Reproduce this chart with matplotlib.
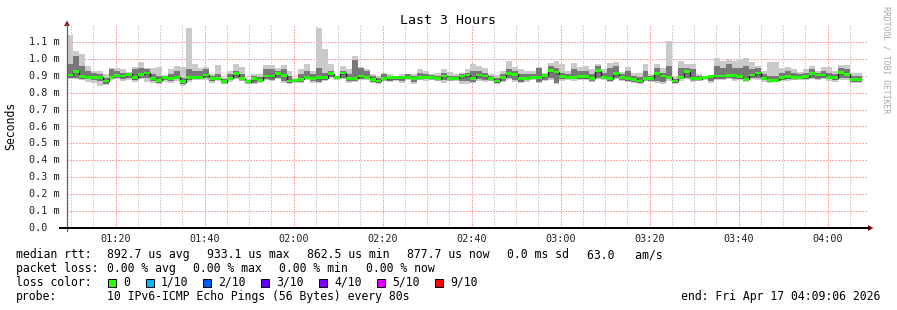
import numpy as np
import matplotlib
matplotlib.use("Agg")
import matplotlib.pyplot as plt
from matplotlib.lines import Line2D
from matplotlib.patches import Rectangle, Polygon

plt.rcParams['font.family'] = ['DejaVu Sans Mono']

W, H = 897, 310

# time axis in minutes of the day: 01:09:06 .. 04:09:06
start_min = 69.1
span_min = 180.0
step_min = 80 / 60.0

# median rtt per 80s step (ms)
median = [0.904, 0.927, 0.894, 0.892, 0.892, 0.892, 0.869, 0.892, 0.902, 0.898, 0.908, 0.888, 0.908, 0.916,
          0.884, 0.873, 0.892, 0.884, 0.892, 0.865, 0.888, 0.892, 0.892, 0.904, 0.882, 0.882, 0.865, 0.884,
          0.912, 0.882, 0.865, 0.882, 0.873, 0.898, 0.898, 0.912, 0.902, 0.869, 0.873, 0.878, 0.892, 0.884,
          0.888, 0.888, 0.912, 0.892, 0.916, 0.884, 0.884, 0.898, 0.892, 0.878, 0.869, 0.882, 0.888, 0.888,
          0.888, 0.892, 0.884, 0.888, 0.892, 0.888, 0.882, 0.898, 0.882, 0.884, 0.898, 0.904, 0.884, 0.904,
          0.898, 0.882, 0.869, 0.892, 0.914, 0.908, 0.882, 0.884, 0.892, 0.892, 0.902, 0.931, 0.922, 0.894,
          0.892,
          0.892, 0.894, 0.894, 0.884, 0.931, 0.892, 0.882, 0.912, 0.892, 0.882, 0.878, 0.869, 0.882, 0.884,
          0.912, 0.898, 0.892, 0.869, 0.892, 0.924, 0.882, 0.882, 0.892, 0.894, 0.898, 0.898, 0.902, 0.902,
          0.894, 0.878, 0.904, 0.916, 0.884, 0.873, 0.873, 0.888, 0.894, 0.888, 0.892, 0.894, 0.912, 0.904,
          0.904, 0.892, 0.888, 0.918, 0.908, 0.878, 0.878]

# smoke: slowest / fastest ping per step (ms)
smoke_hi = [1.143, 1.049, 1.029, 0.959, 0.931, 0.931, 0.908, 0.943, 0.943, 0.937, 0.922, 0.951, 0.980, 0.947,
            0.947, 0.951, 0.902, 0.937, 0.957, 0.951, 1.182, 0.967, 0.947, 0.951, 0.908, 0.963, 0.888, 0.931,
            0.967, 0.951, 0.878, 0.912, 0.908, 0.961, 0.961, 0.943, 0.961, 0.931, 0.888, 0.937, 0.967, 0.931,
            1.182, 1.061, 0.971, 0.898, 0.955, 0.937, 1.014, 0.951, 0.937, 0.912, 0.898, 0.918, 0.908, 0.892,
            0.908, 0.912, 0.908, 0.937, 0.931, 0.912, 0.918, 0.937, 0.922, 0.908, 0.918, 0.937, 0.967, 0.957,
            0.947, 0.908, 0.904, 0.927, 0.986, 0.951, 0.937, 0.927, 0.927, 0.951, 0.918, 0.973, 0.990, 0.967,
            0.931,
            0.976, 0.951, 0.957, 0.937, 0.967, 0.937, 0.976, 0.982, 0.922, 0.951, 0.918, 0.918, 0.971, 0.908,
            0.971, 0.947, 1.104, 0.892, 0.990, 0.971, 0.967, 0.908, 0.898, 0.898, 1.006, 0.986, 0.996, 0.986,
            1.000, 1.006, 0.980, 0.957, 0.927, 0.980, 0.980, 0.947, 0.953, 0.937, 0.924, 0.937, 0.957, 0.931,
            0.951, 0.951, 0.931, 0.963, 0.963, 0.918, 0.918]
smoke_lo = [0.878, 0.878, 0.873, 0.865, 0.859, 0.839, 0.845, 0.873, 0.878, 0.869, 0.873, 0.865, 0.878, 0.865,
            0.859, 0.853, 0.865, 0.859, 0.869, 0.839, 0.865, 0.873, 0.873, 0.873, 0.859, 0.873, 0.853, 0.865,
            0.878, 0.869, 0.853, 0.853, 0.859, 0.873, 0.869, 0.878, 0.859, 0.853, 0.859, 0.859, 0.873, 0.859,
            0.859, 0.869, 0.888, 0.873, 0.878, 0.859, 0.865, 0.873, 0.873, 0.859, 0.853, 0.869, 0.865, 0.869,
            0.859, 0.873, 0.853, 0.873, 0.869, 0.873, 0.869, 0.859, 0.869, 0.869, 0.849, 0.849, 0.859, 0.869,
            0.865, 0.869, 0.853, 0.865, 0.878, 0.865, 0.859, 0.865, 0.873, 0.859, 0.869, 0.873, 0.853, 0.869,
            0.873,
            0.869, 0.873, 0.873, 0.865, 0.878, 0.873, 0.865, 0.878, 0.869, 0.865, 0.859, 0.853, 0.869, 0.865,
            0.859, 0.853, 0.869, 0.853, 0.869, 0.878, 0.865, 0.869, 0.873, 0.859, 0.873, 0.873, 0.878, 0.869,
            0.873, 0.865, 0.878, 0.873, 0.865, 0.859, 0.869, 0.869, 0.869, 0.873, 0.873, 0.873, 0.878, 0.873,
            0.878, 0.869, 0.865, 0.873, 0.873, 0.859, 0.859]

# inner smoke (middle pings)
core_hi = [0.971, 1.016, 0.957, 0.927, 0.918, 0.912, 0.888, 0.937, 0.927, 0.918, 0.918, 0.937, 0.947, 0.937,
           0.908, 0.898, 0.898, 0.912, 0.927, 0.888, 0.937, 0.927, 0.927, 0.937, 0.898, 0.908, 0.882, 0.908,
           0.931, 0.912, 0.873, 0.898, 0.892, 0.937, 0.937, 0.927, 0.937, 0.898, 0.882, 0.908, 0.927, 0.908,
           0.947, 0.918, 0.927, 0.898, 0.927, 0.908, 0.996, 0.947, 0.927, 0.898, 0.888, 0.912, 0.898, 0.892,
           0.898, 0.908, 0.898, 0.918, 0.912, 0.904, 0.898, 0.918, 0.898, 0.898, 0.908, 0.918, 0.927, 0.927,
           0.918, 0.898, 0.888, 0.908, 0.937, 0.927, 0.912, 0.908, 0.908, 0.947, 0.908, 0.957, 0.947, 0.918,
           0.912,
           0.937, 0.927, 0.927, 0.908, 0.957, 0.918, 0.947, 0.957, 0.908, 0.927, 0.898, 0.892, 0.927, 0.898,
           0.947, 0.918, 0.957, 0.882, 0.947, 0.947, 0.937, 0.898, 0.898, 0.898, 0.957, 0.947, 0.967, 0.947,
           0.947, 0.957, 0.937, 0.947, 0.908, 0.898, 0.898, 0.918, 0.927, 0.918, 0.912, 0.918, 0.937, 0.918,
           0.927, 0.918, 0.908, 0.947, 0.937, 0.898, 0.898]
core_lo = [0.884, 0.888, 0.878, 0.878, 0.873, 0.869, 0.853, 0.878, 0.884, 0.878, 0.884, 0.873, 0.888, 0.888,
           0.869, 0.859, 0.873, 0.869, 0.878, 0.849, 0.873, 0.878, 0.878, 0.884, 0.869, 0.873, 0.859, 0.873,
           0.884, 0.873, 0.859, 0.859, 0.865, 0.878, 0.873, 0.884, 0.869, 0.859, 0.865, 0.865, 0.878, 0.869,
           0.865, 0.873, 0.892, 0.878, 0.888, 0.869, 0.869, 0.878, 0.878, 0.865, 0.859, 0.873, 0.869, 0.873,
           0.869, 0.878, 0.865, 0.878, 0.878, 0.878, 0.873, 0.873, 0.873, 0.873, 0.869, 0.869, 0.865, 0.878,
           0.873, 0.873, 0.859, 0.869, 0.888, 0.873, 0.865, 0.873, 0.878, 0.865, 0.873, 0.888, 0.859, 0.878,
           0.878,
           0.878, 0.878, 0.878, 0.869, 0.888, 0.878, 0.869, 0.888, 0.873, 0.869, 0.865, 0.859, 0.873, 0.869,
           0.869, 0.865, 0.878, 0.859, 0.878, 0.888, 0.873, 0.873, 0.878, 0.869, 0.878, 0.878, 0.888, 0.878,
           0.878, 0.869, 0.888, 0.888, 0.873, 0.865, 0.869, 0.873, 0.878, 0.878, 0.878, 0.878, 0.888, 0.878,
           0.884, 0.878, 0.873, 0.888, 0.888, 0.865, 0.865]

xtick_min = [80, 100, 120, 140, 160, 180, 200, 220, 240]
xtick_labels = ["01:20", "01:40", "02:00", "02:20", "02:40", "03:00", "03:20", "03:40", "04:00"]
ytick_vals = [0.0, 0.1, 0.2, 0.3, 0.4, 0.5, 0.6, 0.7, 0.8, 0.9, 1.0, 1.1]
ytick_labels = ["0.0  ", "0.1 m", "0.2 m", "0.3 m", "0.4 m", "0.5 m", "0.6 m", "0.7 m", "0.8 m",
                "0.9 m", "1.0 m", "1.1 m"]

loss_names = ["0", "1/10", "2/10", "3/10", "4/10", "5/10", "9/10"]
loss_colors = ["#26ff00", "#00b8ff", "#0059ff", "#5e00ff", "#7e00ff", "#dd00ff", "#ff0000"]

rtt_items = ["892.7 us avg", "933.1 us max", "862.5 us min", "877.7 us now", "0.0 ms sd", "63.0   am/s"]
loss_items = ["0.00 % avg", "0.00 % max", "0.00 % min", "0.00 % now"]
probe_text = "10 IPv6-ICMP Echo Pings (56 Bytes) every 80s"
end_text = "end: Fri Apr 17 04:09:06 2026"


def fx(px):
    return px / W


def fy(py):
    return 1 - py / H


fig = plt.figure(figsize=(W / 100, H / 100), dpi=100)
fig.patch.set_facecolor('white')

# plot area: x 67..868, y 25..228 px
ax = fig.add_axes([fx(67), fy(228), 801 / W, 203 / H])
ax.set_xlim(start_min, start_min + span_min)
ax.set_ylim(0, 1.2)
ax.axis('off')

# grid (dotted, crisp)
gkw = dict(lw=1.0, ls=(0, (1, 1)), antialiased=False, zorder=1)
for m in np.arange(70, 250, 5):
    if m % 20 == 0:
        continue
    ax.axvline(m, color='#d2d2d2', **gkw)
for m in xtick_min:
    ax.axvline(m, color='#ffa8a8', **gkw)
for v in ytick_vals[1:]:
    ax.axhline(v, color='#ffa8a8', **gkw)

n = len(median)
edges = start_min + np.arange(n + 1) * step_min
med = np.array(median)

ax.stairs(smoke_hi, edges, baseline=smoke_lo, fill=True, color='#cacaca', lw=0, zorder=2)
ax.stairs(core_hi, edges, baseline=core_lo, fill=True, color='#787878', lw=0, zorder=3)
ax.stairs(med, edges, baseline=None, color='#202020', lw=1.0, zorder=4)
half = 1.2 / 203 * 1.4
ax.stairs(med + half, edges, baseline=med - half, fill=True, color=loss_colors[0], lw=0, zorder=5)

# axes lines and arrows
fig.add_artist(Line2D([fx(67), fx(67)], [fy(231), fy(24)], color='#606060', lw=0.9))
fig.add_artist(Line2D([fx(60), fx(869)], [fy(228), fy(228)], color='black', lw=1.4))
arrow_col = '#8b1c1c'
fig.add_artist(Polygon([[fx(64), fy(26)], [fx(70), fy(26)], [fx(67), fy(20.5)]], closed=True,
                       color=arrow_col, lw=0))
fig.add_artist(Polygon([[fx(868), fy(225)], [fx(868), fy(231)], [fx(873.5), fy(228)]], closed=True,
                       color=arrow_col, lw=0))

# tick labels
for v, lab in zip(ytick_vals, ytick_labels):
    ax.text(-0.0087, v, lab, transform=ax.get_yaxis_transform(), ha='right', va='center',
            fontsize=7.3, color='#202020')
for m, lab in zip(xtick_min, xtick_labels):
    fig.text(fx(67 + (m - start_min) / span_min * 801), fy(238.5), lab, fontsize=7.3,
             color='#202020', ha='center', va='center')

# title, axis label, watermark
fig.text(fx(448), fy(20), "Last 3 Hours", fontsize=9.5, ha='center', va='center')
fig.text(fx(11), fy(126), "Seconds", fontsize=8.3, rotation=90, ha='center', va='center')
fig.text(fx(886), fy(60), "RRDTOOL / TOBI OETIKER", fontsize=5.9, rotation=270,
         ha='center', va='center', color='#a8a8a8')

# legend
fs = 8.3
fig.text(fx(16), fy(258), "median rtt:", fontsize=fs, va='baseline')
for i, s in enumerate(rtt_items):
    x = 107 + 100 * i if i < 5 else 587
    fig.text(fx(x), fy(258), s, fontsize=fs, va='baseline')
fig.text(fx(16), fy(272), "packet loss:", fontsize=fs, va='baseline')
for i, s in enumerate(loss_items):
    fig.text(fx(107 + 86.2 * i), fy(272), s, fontsize=fs, va='baseline')
fig.text(fx(16), fy(285.5), "loss color:", fontsize=fs, va='baseline')
box_x = [108, 146, 203, 261, 319, 377, 435]
for bx, name, c in zip(box_x, loss_names, loss_colors):
    fig.add_artist(Rectangle((fx(bx), fy(286.5)), 8 / W, 8 / H, facecolor=c, edgecolor='black', lw=0.7))
    fig.text(fx(bx + 15), fy(285.5), name, fontsize=fs, va='baseline')
fig.text(fx(16), fy(300), "probe:", fontsize=fs, va='baseline')
fig.text(fx(107), fy(300), probe_text, fontsize=fs, va='baseline')
fig.text(fx(880), fy(300), end_text, fontsize=fs, va='baseline', ha='right')

fig.savefig('out.png', dpi=100)
